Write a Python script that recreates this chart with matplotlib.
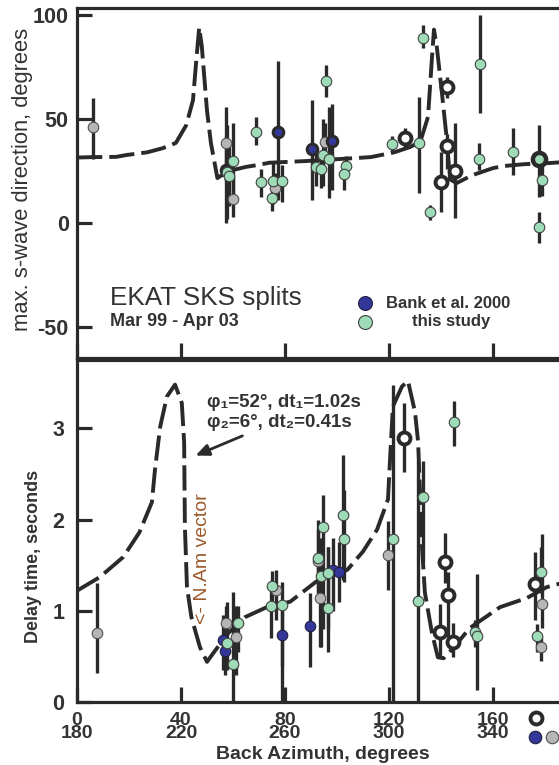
import matplotlib.pyplot as plt
import matplotlib.transforms as mtransforms
import numpy as np

# --- Fonts / style ---
plt.rcParams['font.family'] = ['Liberation Sans', 'DejaVu Sans']
ink = '#2a2a2a'
green = '#9edcb8'
blue = '#34379a'
grey = '#b6b6b6'

# --- Model curves ---
phi_curve_x = [0, 6, 15, 19, 27, 33, 38, 42, 44.6, 46, 47, 48, 50, 51.5, 54,
               55, 60, 65, 70, 74, 88, 104, 113, 122, 128, 132, 135, 136.5, 137.3,
               138.4, 140.4, 142, 143.5, 146, 152, 160, 164, 172, 181, 186]
phi_curve_y = [31.5, 31.7, 31.8, 32.7, 34, 36, 38.5, 47, 59, 80, 94, 85, 54, 38.5, 21.6,
               22.5, 25.5, 27, 28, 29, 29.8, 31, 31.7, 34, 36.5, 39, 51, 79, 93,
               84.6, 62, 43, 21, 19.2, 23, 26.4, 27.4, 28.3, 28.8, 29.2]

dt_curve_x = [0, 8.8, 17.8, 24, 28.8, 30, 32, 34.6, 37.7, 40.3, 41.2, 41.5, 42.3,
              44, 47.3, 50, 52, 58, 64.6, 73, 82, 92, 104, 110, 115.4, 119.6, 120.4,
              121.5, 125, 127.3, 130, 131.2, 132.7, 133.8, 136.5, 138.8, 141, 145,
              151, 162.7, 173, 180.7, 186]
dt_curve_y = [1.22, 1.37, 1.59, 1.86, 2.19, 2.55, 3.02, 3.35, 3.48, 3.28, 2.85, 1.92, 1.26,
              0.93, 0.6, 0.44, 0.52, 0.75, 0.93, 1.04, 1.1, 1.32, 1.45, 1.65, 1.89, 2.22, 2.66,
              3.24, 3.46, 3.52, 3.18, 2.85, 1.7, 1.2, 0.76, 0.49, 0.48, 0.6,
              0.81, 1.04, 1.14, 1.26, 1.3]

# --- Top panel data: fast direction (x, value, err low end, err high end) ---
phi_grey_x = [6.2, 57.3, 60.0, 76.0, 95.4]
phi_grey_y = [46, 38.4, 11.5, 16.8, 39]
phi_grey_lo = [31, 20, 3, 10, 30]
phi_grey_hi = [60, 56, 22, 24, 48]

phi_blue_x = [57.3, 77.3, 90.4, 98.0]
phi_blue_y = [25.5, 44, 35.5, 39.4]
phi_blue_lo = [0, 11, 11, 16]
phi_blue_hi = [42, 78, 59, 57]

phi_green_x = [60.0, 57.7, 58.3, 69.0, 70.8, 75.4, 79.0, 75.0, 94.8, 97.0, 92.0, 94.0,
               103.5, 102.7, 95.8, 155.0, 133.0, 121.0, 131.5, 135.8, 154.6, 167.7,
               179.0, 177.7]
phi_green_y = [30, 24.5, 22.5, 44, 19.7, 20, 20, 12, 32.7, 30.8, 27, 26,
               27.4, 23.6, 68.3, 76.4, 89, 38, 38.4, 5.3, 31, 34.3,
               20.7, -1.9]
phi_green_lo = [14, 2, 8, 37.5, 12.5, 9, 10, 6, 18, 12, 18, 17,
                22, 16, 60.6, 53, 84, 34, 14.4, 1.4, 25.5, 23,
                13, -9.6]
phi_green_hi = [48, 47, 38, 51, 26, 30, 28, 18, 50, 56, 34, 33,
                32, 30, 76, 100, 95, 42, 60.6, 8.7, 38.5, 45.6,
                33, 5.3]

phi_open_x = [126.0, 142.3, 142.3, 140.0, 145.4]
phi_open_y = [40.9, 65.4, 37, 19.7, 25]
phi_open_lo = [36, 60, 26, 5.3, 2.4]
phi_open_hi = [45.6, 70, 43, 34, 48]

phi_ring_x = [177.7]
phi_ring_y = [31]
phi_ring_lo = [12.5]
phi_ring_hi = [47]

# --- Bottom panel data: delay time ---
dt_grey_x = [7.7, 57.3, 61.0, 76.5, 92.7, 93.5, 119.8, 179.0, 178.5]
dt_grey_y = [0.76, 0.87, 0.71, 1.23, 1.55, 1.14, 1.61, 1.08, 0.6]
dt_grey_lo = [0.32, 0.5, 0.3, 0.9, 1.2, 0.6, 1.23, 0.81, 0.45]
dt_grey_hi = [1.31, 1.05, 1.05, 1.45, 2.0, 1.6, 1.98, 1.84, 0.72]

dt_blue_x = [56.0, 57.0, 79.0, 89.6, 98.5, 100.8]
dt_blue_y = [0.68, 0.56, 0.73, 0.83, 1.45, 1.43]
dt_blue_lo = [0.35, 0.3, 0.4, 0.38, 1.0, 1.1]
dt_blue_hi = [0.95, 0.9, 1.0, 1.2, 1.8, 1.75]

dt_green_x = [61.9, 57.7, 60.0, 75.0, 74.6, 79.0, 94.6, 92.7, 94.0, 96.5, 96.5,
              102.3, 102.7, 145.0, 133.0, 121.7, 131.0, 153.0, 154.0, 178.5, 177.0]
dt_green_y = [0.87, 0.65, 0.42, 1.27, 1.05, 1.06, 1.92, 1.58, 1.38, 1.41, 1.03,
              2.05, 1.79, 3.07, 2.25, 1.79, 1.11, 0.77, 0.72, 1.43, 0.72]
dt_green_lo = [0.55, 0.35, 0.0, 1.0, 0.7, 0.0, 0.8, 1.2, 0.6, 0.8, 0.55,
               1.34, 1.32, 2.81, 1.54, 0.0, 0.0, 0.6, 0.13, 1.2, 0.55]
dt_green_hi = [1.05, 1.1, 1.21, 1.44, 1.3, 1.32, 2.27, 1.9, 1.8, 1.7, 1.7,
               2.71, 2.33, 3.3, 2.64, 3.48, 2.64, 0.9, 1.4, 1.7, 0.85]

dt_open_x = [125.8, 141.5, 142.7, 139.6, 144.6, 176.0]
dt_open_y = [2.9, 1.54, 1.17, 0.77, 0.66, 1.29]
dt_open_lo = [2.52, 1.31, 0.71, 0.49, 0.49, 0.9]
dt_open_hi = [3.28, 1.85, 1.42, 1.07, 0.87, 1.64]

xticks = [0, 40, 80, 120, 160]
xtick_labels = ['0\n180', '40\n220', '80\n260', '120\n300', '160\n340']

# --- Figure / axes (positions in pixels of a 559x765 canvas) ---
W, H = 559, 765
fig = plt.figure(figsize=(W / 100, H / 100), dpi=100)
ax1 = fig.add_axes([77 / W, 1 - 358 / H, 1 - 77 / W, 350 / H])
ax2 = fig.add_axes([77 / W, 1 - 702 / H, 1 - 77 / W, 342 / H])

green_kw = dict(marker='o', ls='none', ms=7.6, mfc=green, mec='#404040', mew=0.8, zorder=5)
blue_kw = dict(marker='o', ls='none', ms=7.6, mfc=blue, mec='#202040', mew=0.8, zorder=5)
grey_kw = dict(marker='o', ls='none', ms=7.6, mfc=grey, mec='#505050', mew=0.8, zorder=4)
open_kw = dict(marker='o', ls='none', ms=8.6, mfc='white', mec=ink, mew=2.8, zorder=6)


def draw_set(ax, x, y, lo, hi, kw):
    ax.vlines(x, lo, hi, colors=ink, lw=2.4, zorder=3)
    ax.plot(x, y, **kw)


for ax in (ax1, ax2):
    for side in ('left', 'top', 'bottom'):
        ax.spines[side].set_linewidth(2.3)
        ax.spines[side].set_color(ink)
    ax.spines['right'].set_visible(False)
    ax.set_xlim(0, (W - 77) / 2.6)
    ax.set_xticks(xticks)
    ax.tick_params(direction='in', length=11, width=2.3, color=ink,
                   labelsize=15.5, labelcolor='#333333', pad=6)

# top panel
ax1.plot(phi_curve_x, phi_curve_y, color=ink, lw=2.8, ls=(0, (6.5, 1.8)), zorder=2)
draw_set(ax1, phi_grey_x, phi_grey_y, phi_grey_lo, phi_grey_hi, grey_kw)
draw_set(ax1, phi_blue_x, phi_blue_y, phi_blue_lo, phi_blue_hi,
         dict(blue_kw, mec=ink, mew=2.2))
draw_set(ax1, phi_green_x, phi_green_y, phi_green_lo, phi_green_hi, green_kw)
draw_set(ax1, phi_open_x, phi_open_y, phi_open_lo, phi_open_hi, open_kw)
draw_set(ax1, phi_ring_x, phi_ring_y, phi_ring_lo, phi_ring_hi,
         dict(open_kw, mfc=green, ms=9.5, mew=3.2))
ax1.set_ylim(-64.9, 103.4)
ax1.set_yticks([-50, 0, 50, 100])
ax1.set_yticklabels(['-50', '0', '50', '100'], fontweight='bold')
ax1.tick_params(axis='x', labelbottom=False)
ax1.set_ylabel('max. s-wave direction, degrees', fontsize=15.8, color='#333333')
ax1.yaxis.set_label_coords(-0.091, 0.51)

ax1.text(0.068, 0.171, 'EKAT SKS splits', transform=ax1.transAxes, fontsize=18.8,
         color='#333333', va='center', ha='left')
ax1.text(0.068, 0.103, 'Mar 99 - Apr 03', transform=ax1.transAxes, fontsize=13,
         fontweight='bold', color='#333333', va='center', ha='left')
ax1.plot([0.598], [0.157], transform=ax1.transAxes, **dict(blue_kw, ms=10))
ax1.plot([0.598], [0.103], transform=ax1.transAxes, **dict(green_kw, ms=10))
ax1.text(0.641, 0.157, 'Bank et al. 2000', transform=ax1.transAxes, fontsize=12,
         fontweight='bold', color='#333333', va='center', ha='left')
ax1.text(0.776, 0.103, 'this study', transform=ax1.transAxes, fontsize=12,
         fontweight='bold', color='#333333', va='center', ha='center')

# bottom panel
ax2.plot(dt_curve_x, dt_curve_y, color=ink, lw=2.8, ls=(0, (6.5, 1.8)), zorder=2)
draw_set(ax2, dt_grey_x, dt_grey_y, dt_grey_lo, dt_grey_hi, grey_kw)
draw_set(ax2, dt_blue_x, dt_blue_y, dt_blue_lo, dt_blue_hi, blue_kw)
draw_set(ax2, dt_green_x, dt_green_y, dt_green_lo, dt_green_hi, green_kw)
draw_set(ax2, dt_open_x, dt_open_y, dt_open_lo, dt_open_hi, open_kw)
ax2.set_ylim(0, 3.75)
ax2.set_yticks([0, 1, 2, 3])
ax2.set_yticklabels(['0', '1', '2', '3'], fontweight='bold')
ax2.tick_params(axis='y', pad=9)
ax2.set_xticklabels(xtick_labels, fontweight='bold', linespacing=0.72)
ax2.tick_params(axis='x', pad=7, labelsize=14)
ax2.set_ylabel('Delay time, seconds', fontsize=13, fontweight='bold', color='#333333')
ax2.yaxis.set_label_coords(-0.073, 0.427)
ax2.set_xlabel('Back Azimuth, degrees', fontsize=14, fontweight='bold', color='#333333')
ax2.xaxis.set_label_coords(0.51, -0.129)

ax2.text(0.27, 0.877, 'φ₁=52°, dt₁=1.02s', transform=ax2.transAxes, fontsize=13.5,
         fontweight='bold', color='#333333', va='center', ha='left')
ax2.text(0.27, 0.816, 'φ₂=6°, dt₂=0.41s', transform=ax2.transAxes, fontsize=13.5,
         fontweight='bold', color='#333333', va='center', ha='left')
ax2.annotate('', xy=(44.6, 2.69), xytext=(64.6, 2.93),
             arrowprops=dict(arrowstyle='-|>,head_length=0.8,head_width=0.35',
                             color=ink, lw=2))
ax2.text(48.3, 1.57, '<- N.Am vector', rotation=90, fontsize=14, color='#9c5a2c',
         va='center', ha='center')

# symbol key below the axis
trans = mtransforms.blended_transform_factory(ax2.transData, ax2.transAxes)
ax2.plot([176.5], [-0.047], transform=trans, clip_on=False, **open_kw)
ax2.plot([176.2], [-0.102], transform=trans, clip_on=False, **dict(blue_kw, ms=9))
ax2.plot([182.7], [-0.102], transform=trans, clip_on=False, **dict(grey_kw, ms=9))

fig.savefig('out.png', dpi=100)
